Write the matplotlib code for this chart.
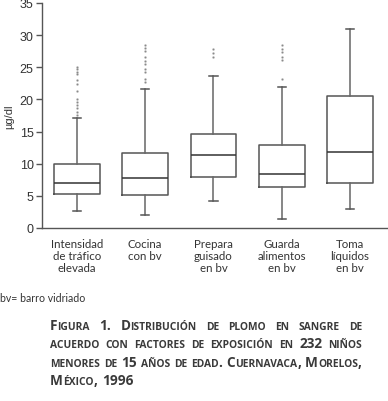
import matplotlib
matplotlib.use("Agg")
import matplotlib.pyplot as plt

# datos (ug/dl)
categorias = ["Intensidad\nde tráfico\nelevada", "Cocina\ncon bv", "Prepara\nguisado\nen bv",
              "Guarda\nalimentos\nen bv", "Toma\nlíquidos\nen bv"]
bigote_inf = [2.7, 2.1, 4.15, 1.35, 2.9]
q1 = [5.35, 5.1, 7.9, 6.4, 7.0]
mediana = [7.05, 7.8, 11.3, 8.4, 11.9]
q3 = [10.0, 11.65, 14.6, 12.9, 20.5]
bigote_sup = [17.1, 21.7, 23.7, 21.9, 31.0]
atipicos = [
    [17.6, 18.0, 18.6, 19.2, 19.6, 20.0, 21.3, 22.4, 23.0, 23.9, 24.3, 24.7, 25.0],
    [22.7, 23.2, 24.3, 24.7, 25.5, 26.0, 26.6, 27.5, 28.0, 28.5],
    [26.6, 27.2, 27.8],
    [23.2, 26.2, 26.6, 27.4, 27.9, 28.5],
    [],
]
yticks = [0, 5, 10, 15, 20, 25, 30, 35]

W, H = 388, 402
fig = plt.figure(figsize=(W / 100, H / 100), dpi=100)
ax = fig.add_axes([42 / W, 1 - 229 / H, 345 / W, 225 / H])

stats = []
for i in range(len(categorias)):
    stats.append(dict(whislo=bigote_inf[i], q1=q1[i], med=mediana[i], q3=q3[i],
                      whishi=bigote_sup[i], fliers=atipicos[i]))

ax.bxp(stats, positions=range(1, 6), widths=0.67, capwidths=0.12,
       boxprops=dict(color="#555555", lw=1.1),
       medianprops=dict(color="#333333", lw=1.1),
       whiskerprops=dict(color="#666666", lw=1.1),
       capprops=dict(color="#555555", lw=1.1),
       flierprops=dict(marker="s", markersize=1.0, markerfacecolor="#8a8a8a",
                       markeredgecolor="#8a8a8a", markeredgewidth=0.3))

ax.set_xlim(0.49, 5.54)
ax.set_ylim(0, 35)
ax.set_yticks(yticks)
ax.set_xticks([])
for s in ["top", "right"]:
    ax.spines[s].set_visible(False)
for s in ["left", "bottom"]:
    ax.spines[s].set_color("#555555")
    ax.spines[s].set_linewidth(1.0)
ax.tick_params(axis="y", length=4, width=1.0, color="#555555", labelsize=9,
               labelcolor="#333333", pad=2)
for lb in ax.get_yticklabels():
    lb.set_family("Liberation Sans")
ax.set_ylabel("µg/dl", fontsize=8, color="#333333", labelpad=4, family="Liberation Sans")

for i, c in enumerate(categorias):
    ax.text(i + 1, -0.045, c, transform=ax.get_xaxis_transform(), ha="center", va="top",
            fontsize=8.3, color="#333333", linespacing=1.12, family="Lato")

fig.text(0 / W, 1 - 302 / H, "bv= barro vidriado", fontsize=7.6, color="#333333",
         va="baseline", family="Lato")

# leyenda de la figura en versalitas
leyenda = ["Figura 1. Distribución de plomo en sangre de",
           "acuerdo con factores de exposición en 232 niños",
           "menores de 15 años de edad. Cuernavaca, Morelos,",
           "México, 1996"]
bases = [330, 348.5, 367, 385.5]
x0, x1 = 50, 362
grande, chica = 9.8, 7.4
r = fig.canvas.get_renderer()


def trozos(palabra):
    res = []
    for ch in palabra:
        peq = ch.islower()
        t = ch.upper() if peq else ch
        if res and res[-1][1] == peq:
            res[-1][0] += t
        else:
            res.append([t, peq])
    return res


def poner(palabra, x, y):
    for t, peq in trozos(palabra):
        txt = fig.text(x / W, 1 - y / H, t, fontsize=chica if peq else grande,
                       fontweight="bold", color="#3a3a3a", va="baseline",
                       family="Open Sans")
        x += txt.get_window_extent(r).width
    return x


def ancho(palabra):
    w = 0
    for t, peq in trozos(palabra):
        tt = fig.text(0, 0, t, fontsize=chica if peq else grande, fontweight="bold",
                      family="Open Sans")
        w += tt.get_window_extent(r).width
        tt.remove()
    return w


for k, linea in enumerate(leyenda):
    palabras = linea.split(" ")
    anchos = [ancho(p) for p in palabras]
    if k < len(leyenda) - 1:
        hueco = (x1 - x0 - sum(anchos)) / (len(palabras) - 1)
    else:
        hueco = 5
    x = x0
    for p, a in zip(palabras, anchos):
        poner(p, x, bases[k])
        x += a + hueco

fig.savefig("out.png", dpi=100)
